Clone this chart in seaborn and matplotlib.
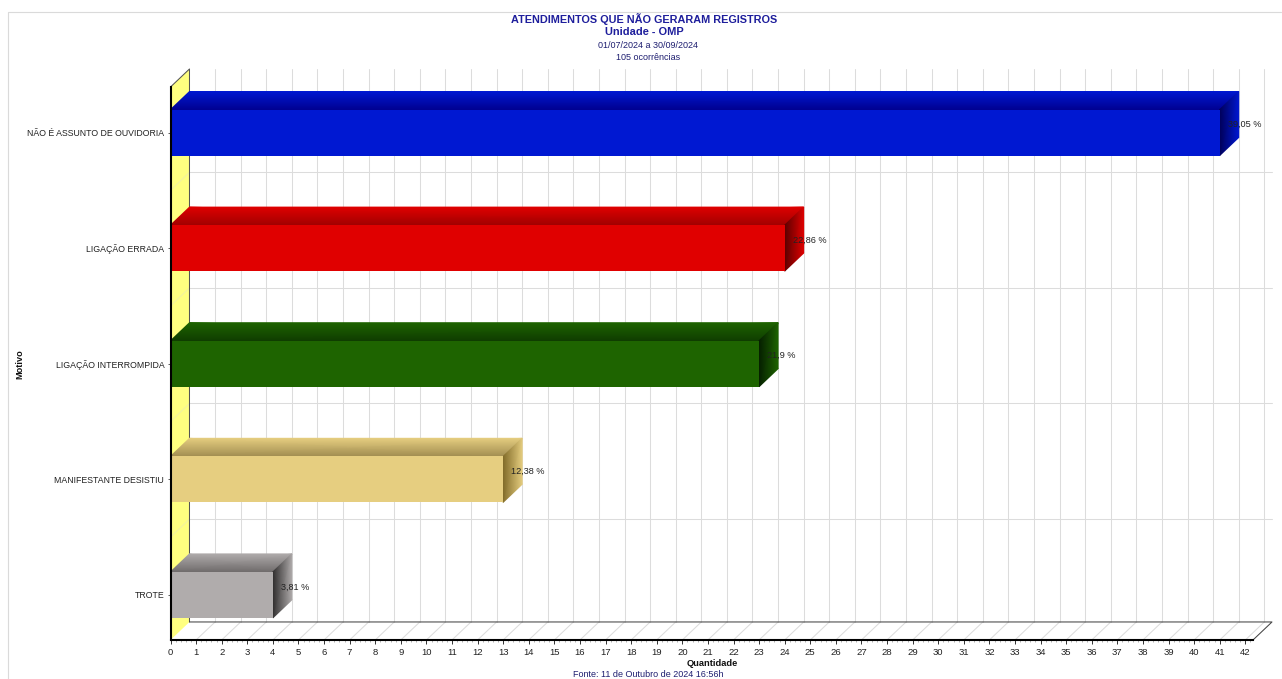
import matplotlib
matplotlib.use("Agg")
import matplotlib.pyplot as plt
from matplotlib.colors import LinearSegmentedColormap
from matplotlib.patches import Polygon, Rectangle
from matplotlib.ticker import MultipleLocator
import numpy as np
import pandas as pd
import seaborn as sns

motivos = ["NÃO É ASSUNTO DE OUVIDORIA", "LIGAÇÃO ERRADA", "LIGAÇÃO INTERROMPIDA",
           "MANIFESTANTE DESISTIU", "TROTE"]
quantidades = [41, 24, 23, 13, 4]
percentuais = [39.05, 22.86, 21.9, 12.38, 3.81]
cores = ["#0018D2", "#E00000", "#1E6400", "#E6CE80", "#B0ACAC"]
topo_escuro = ["#000090", "#A00000", "#0F3C00", "#A08C50", "#6E6A6A"]
lado_escuro = ["#000058", "#580000", "#051E00", "#806A28", "#2E2C2C"]

W, H = 1282, 679
sns.set_theme(style="white")
plt.rcParams["font.family"] = ["Liberation Sans", "DejaVu Sans"]

fig = plt.figure(figsize=(W / 100, H / 100), dpi=100, facecolor="white")
left, right, top, bottom = 170.5, 1253.0, 87.0, 640.0
ax = fig.add_axes([left / W, 1 - bottom / H, (right - left) / W, (bottom - top) / H])

posicoes = np.arange(len(motivos))
df = pd.DataFrame({"motivo": motivos, "pos": posicoes, "qtd": quantidades})
sns.barplot(data=df, y="pos", x="qtd", hue="motivo", palette=cores, orient="h",
            hue_order=motivos, saturation=1, width=0.398, dodge=False,
            native_scale=True, legend=False, linewidth=0, edgecolor="none", ax=ax)

xmax = 42.3
ymin, ymax = -0.394, 4.39
ax.set_xlim(0, xmax)
ax.set_ylim(ymax, ymin)
ax.set_yticks(posicoes, motivos)

# oblique offset of the back plane, in data units
DX, DY = 0.742, 0.156
half = 0.199
GRID = "#DCDCDC"
LW = 0.75

# yellow side wall
ax.add_patch(Polygon([(0, ymin), (DX, ymin - DY), (DX, ymax - DY), (0, ymax)],
                     closed=True, fc="#FFFF80", ec="none", clip_on=False, zorder=1))
ax.plot([0, DX, DX], [ymin, ymin - DY, ymax - DY], color="#555555", lw=LW, clip_on=False, zorder=1.5)

# back wall grid, floor grid and faint lines over the side wall
for v in range(1, 43):
    ax.plot([v + DX, v + DX], [ymin - DY, ymax - DY], color=GRID, lw=LW, clip_on=False, zorder=1.2)
    ax.plot([v, v + DX], [ymax, ymax - DY], color=GRID, lw=LW, clip_on=False, zorder=1.2)
for b in np.arange(0.5, 4):
    ax.plot([DX, xmax + DX], [b - DY, b - DY], color=GRID, lw=LW, clip_on=False, zorder=1.2)
    ax.plot([0, DX], [b, b - DY], color="#F2F2A0", lw=LW, clip_on=False, zorder=1.3)

# floor outline
ax.plot([DX, xmax + DX, xmax], [ymax - DY, ymax - DY, ymax], color="#444444", lw=LW,
        clip_on=False, zorder=1.6)


def face(xs, ys, dark, light):
    cmap = LinearSegmentedColormap.from_list("f", [dark, light])
    m = ax.pcolormesh(np.array(xs, dtype=float), np.array(ys, dtype=float),
                      np.array([[0.0, 0.0], [1.0, 1.0]]),
                      shading="gouraud", cmap=cmap, vmin=0, vmax=1, zorder=3)
    m.set_clip_on(False)


# depth of each bar: top face, then right-hand face, both shaded front to back
for i, v in enumerate(quantidades):
    yt, yb = i - half, i + half
    face([[0, v], [DX, v + DX]], [[yt, yt], [yt - DY, yt - DY]], topo_escuro[i], cores[i])
    face([[v, v], [v + DX, v + DX]], [[yt, yb], [yt - DY, yb - DY]], lado_escuro[i], cores[i])
    texto = f"{str(percentuais[i]).replace('.', ',')} %"
    ax.text(v + 0.31, i - 0.07, texto, fontsize=6.6, color="#222222", va="center", ha="left",
            zorder=6, clip_on=False)

for p in ax.patches:
    if isinstance(p, Rectangle) and p.get_height() < 1:
        p.set_zorder(4)
        p.set_edgecolor("none")
        p.set_linewidth(0)

# axes, ticks and labels
sns.despine(ax=ax, top=True, right=True)
for s in ("left", "bottom"):
    ax.spines[s].set_color("black")
    ax.spines[s].set_linewidth(1.5)
    ax.spines[s].set_zorder(5)
ax.xaxis.set_major_locator(MultipleLocator(1))
ax.xaxis.set_minor_locator(MultipleLocator(0.2))
ax.tick_params(axis="x", which="major", bottom=True, length=3, width=0.7, color="#333333",
               labelsize=6.8, labelcolor="#222222", pad=2.5)
ax.tick_params(axis="x", which="minor", bottom=True, length=1.2, width=0.4, color="#777777")
ax.tick_params(axis="y", which="major", left=True, length=2.5, width=0.6, color="#444444",
               labelsize=6.3, labelcolor="#222222", pad=2)
ax.set_xlim(0, xmax)
ax.set_ylim(ymax, ymin)
ax.set_xlabel("")
ax.set_ylabel("")

fig.text(712 / W, 1 - 663.5 / H, "Quantidade", fontsize=6.7, fontweight="bold", color="#111111",
         ha="center", va="center")
fig.text(19.5 / W, 1 - 364 / H, "Motivo", fontsize=6.6, fontweight="bold", color="#111111",
         rotation=90, ha="center", va="center")

# heading block
azul = "#1E1E9C"
fig.text(644 / W, 1 - 19 / H, "ATENDIMENTOS QUE NÃO GERARAM REGISTROS", fontsize=7.8,
         fontweight="bold", color=azul, ha="center", va="center")
fig.text(644 / W, 1 - 32 / H, "Unidade - OMP", fontsize=7.9, fontweight="bold", color=azul,
         ha="center", va="center")
fig.text(648 / W, 1 - 45.5 / H, "01/07/2024 a 30/09/2024", fontsize=6.5, color="#1E1E70",
         ha="center", va="center")
fig.text(648 / W, 1 - 58 / H, "105 ocorrências", fontsize=6.5, color="#1E1E70",
         ha="center", va="center")
fig.text(648 / W, 1 - 674.5 / H, "Fonte: 11 de Outubro de 2024 16:56h", fontsize=6.5, color="#1E1E70",
         ha="center", va="center")

# light frame around the chart area
fig.add_artist(plt.Line2D([7.5 / W, 7.5 / W, 1 - 1 / W], [0, 1 - 11.5 / H, 1 - 11.5 / H],
                          color="#DADADA", lw=0.8))

fig.savefig("out.png", dpi=100, facecolor="white")
